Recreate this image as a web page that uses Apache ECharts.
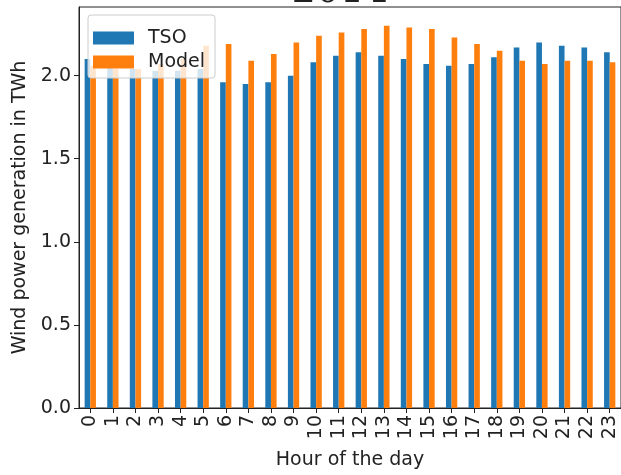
<!DOCTYPE html>
<html>
<head>
<meta charset="utf-8">
<script src="https://cdn.jsdelivr.net/npm/echarts@6/dist/echarts.min.js"></script>
<style>
  html, body { margin: 0; padding: 0; background: #ffffff; }
  #chart { width: 621px; height: 475px; }
</style>
</head>
<body>
<div id="chart"></div>
<script>
// Hour-of-day categories
const hours = ['0', '1', '2', '3', '4', '5', '6', '7', '8', '9', '10', '11',
               '12', '13', '14', '15', '16', '17', '18', '19', '20', '21', '22', '23'];

// Wind power generation (TWh) per hour of the day
const tsoValues = [2.10, 2.07, 2.04, 2.03, 2.03, 2.04, 1.96, 1.95, 1.96, 2.00, 2.08, 2.12,
                   2.14, 2.12, 2.10, 2.07, 2.06, 2.07, 2.11, 2.17, 2.20, 2.18, 2.17, 2.14];
const modelValues = [2.06, 2.04, 2.04, 2.07, 2.10, 2.18, 2.19, 2.09, 2.13, 2.20, 2.24, 2.26,
                     2.28, 2.30, 2.29, 2.28, 2.23, 2.19, 2.15, 2.09, 2.07, 2.09, 2.09, 2.08];

const seriesNames = ['TSO', 'Model'];
const seriesColors = ['#1f77b4', '#ff7f0e'];

const yMax = 2.413;
const font = 'DejaVu Sans';
const fontSize = 19;

const chart = echarts.init(document.getElementById('chart'), null, { renderer: 'canvas' });

chart.setOption({
  animation: false,
  backgroundColor: '#ffffff',
  textStyle: { fontFamily: font },
  grid: {
    left: 79,
    top: 7,
    width: 547,
    bottom: 55,
    show: true,
    borderColor: '#222',
    borderWidth: 1,
    backgroundColor: 'transparent',
    containLabel: false
  },
  graphic: [{
    // Year heading above the axes, largely outside the canvas top
    type: 'text',
    x: 340,
    y: 11,
    style: {
      text: '2014',
      align: 'center',
      verticalAlign: 'bottom',
      font: '38px "DejaVu Serif"',
      fill: '#222'
    },
    z: 10
  }],
  legend: {
    data: seriesNames,
    orient: 'vertical',
    left: 88,
    top: 15,
    padding: [12, 10, 5, 5],
    itemGap: 2,
    itemWidth: 41,
    itemHeight: 13,
    icon: 'rect',
    backgroundColor: 'rgba(255,255,255,0.8)',
    borderColor: '#cccccc',
    borderWidth: 1,
    borderRadius: 3,
    textStyle: { fontFamily: font, fontSize: fontSize, color: '#222', lineHeight: 22, padding: [0, 0, 0, 9] }
  },
  xAxis: {
    type: 'category',
    data: hours,
    name: 'Hour of the day',
    nameLocation: 'middle',
    nameGap: 43,
    nameTextStyle: { fontFamily: font, fontSize: fontSize, color: '#222' },
    axisLine: { show: true, lineStyle: { color: '#222', width: 1 } },
    axisTick: { show: true, alignWithLabel: true, length: 5, lineStyle: { color: '#222' } },
    axisLabel: { rotate: 90, margin: 7, fontFamily: font, fontSize: fontSize, color: '#222', interval: 0 },
    splitLine: { show: false }
  },
  yAxis: {
    type: 'value',
    min: 0,
    max: yMax,
    interval: 0.5,
    name: 'Wind power generation in TWh',
    nameLocation: 'middle',
    nameGap: 46,
    nameRotate: 90,
    nameTextStyle: { fontFamily: font, fontSize: fontSize, color: '#222' },
    axisLine: { show: true, lineStyle: { color: '#222', width: 1 } },
    axisTick: { show: true, length: 5, lineStyle: { color: '#222' } },
    axisLabel: {
      margin: 8,
      fontFamily: font,
      fontSize: fontSize,
      color: '#222',
      showMaxLabel: false,
      formatter: v => v.toFixed(1)
    },
    splitLine: { show: false }
  },
  series: [
    {
      name: seriesNames[0],
      type: 'bar',
      data: tsoValues,
      barWidth: '25%',
      barGap: '0%',
      itemStyle: { color: seriesColors[0] }
    },
    {
      name: seriesNames[1],
      type: 'bar',
      data: modelValues,
      barWidth: '25%',
      barGap: '0%',
      itemStyle: { color: seriesColors[1] }
    }
  ]
});
</script>
</body>
</html>
